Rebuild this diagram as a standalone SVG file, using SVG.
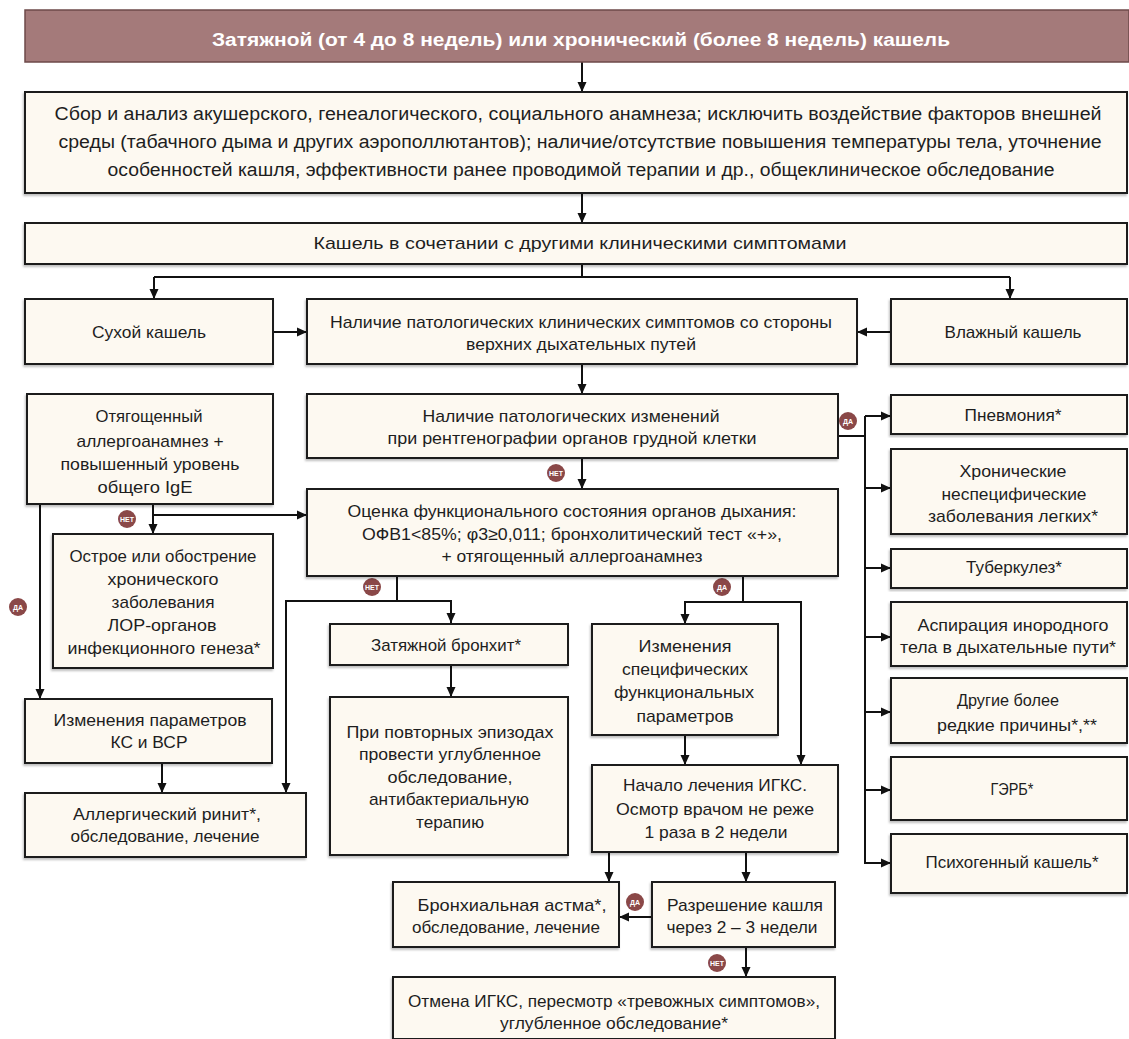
<svg xmlns="http://www.w3.org/2000/svg" width="1129" height="1039" viewBox="0 0 1129 1039">
<defs>
<marker id="ah" markerUnits="userSpaceOnUse" markerWidth="10" markerHeight="10" viewBox="0 0 10 10" refX="10" refY="5" orient="auto">
<path d="M0,0.5 L10,5 L0,9.5 z" fill="#111"/>
</marker>
<filter id="sh" x="-5%" y="-5%" width="110%" height="115%">
<feDropShadow dx="-1" dy="2" stdDeviation="1.2" flood-color="#000" flood-opacity="0.25"/>
</filter>
</defs>
<style>
.box{fill:#fdf9f1;stroke:#1c1c1c;stroke-width:2;filter:url(#sh)}
.t{font-family:"Liberation Sans",Arial,sans-serif;font-size:17px;fill:#1e1e1e;text-anchor:middle}
.big{font-size:18px}
.title{font-family:"Liberation Sans",Arial,sans-serif;font-size:18px;font-weight:bold;fill:#fff;text-anchor:middle}
.c{fill:none;stroke:#111;stroke-width:2}
.a{marker-end:url(#ah)}
.bd circle{fill:#8a4848}
.bd text{font-family:"Liberation Sans",Arial,sans-serif;font-size:7px;font-weight:bold;fill:#fff;text-anchor:middle}
</style>
<rect width="1129" height="1039" fill="#ffffff"/>

<g id="connectors">
<path class="c a" d="M582 62 V92"/>
<path class="c a" d="M582 193 V223"/>
<path class="c" d="M582 264 V277 M154 277 H1010"/>
<path class="c a" d="M154 277 V299"/>
<path class="c a" d="M1010 277 V299"/>
<path class="c a" d="M273 332 H307"/>
<path class="c a" d="M891 332 H857"/>
<path class="c a" d="M582 364 V394"/>
<path class="c a" d="M582 458 V489"/>
<path class="c" d="M838 436 H865 M865 416 V863"/>
<path class="c a" d="M865 416 H891"/>
<path class="c a" d="M865 488 H891"/>
<path class="c a" d="M865 568 H891"/>
<path class="c a" d="M865 637 H891"/>
<path class="c a" d="M865 712 H891"/>
<path class="c a" d="M865 790 H891"/>
<path class="c a" d="M864 863 H891"/>
<path class="c a" d="M40 504 V699"/>
<path class="c a" d="M153 504 V534"/>
<path class="c a" d="M153 515 H307"/>
<path class="c" d="M397 576 V601 M286 601 H451"/>
<path class="c a" d="M286 600 V793"/>
<path class="c a" d="M451 600 V623"/>
<path class="c" d="M743 576 V602 M685 602 H801"/>
<path class="c a" d="M685 601 V624"/>
<path class="c a" d="M801 601 V765"/>
<path class="c a" d="M451 665 V697"/>
<path class="c a" d="M162 763 V793"/>
<path class="c a" d="M685 735 V765"/>
<path class="c a" d="M609 852 V882"/>
<path class="c a" d="M746 852 V882"/>
<path class="c a" d="M652 917 H619"/>
<path class="c a" d="M746 947 V977"/>
<g class="bd"><circle cx="556" cy="473" r="9"/><text x="556" y="475.5">НЕТ</text></g>
<g class="bd"><circle cx="848" cy="421" r="9"/><text x="848" y="423.5">ДА</text></g>
<g class="bd"><circle cx="18" cy="607" r="9"/><text x="18" y="609.5">ДА</text></g>
<g class="bd"><circle cx="127" cy="519" r="9"/><text x="127" y="521.5">НЕТ</text></g>
<g class="bd"><circle cx="372" cy="587" r="9"/><text x="372" y="589.5">НЕТ</text></g>
<g class="bd"><circle cx="722" cy="587" r="9"/><text x="722" y="589.5">ДА</text></g>
<g class="bd"><circle cx="635" cy="902" r="9"/><text x="635" y="904.5">ДА</text></g>
<g class="bd"><circle cx="717" cy="963" r="9"/><text x="717" y="965.5">НЕТ</text></g>
</g>

<g id="n-title">
<rect x="25" y="10" width="1104" height="52" fill="#a47a7a" stroke="#6d4a4a" stroke-width="1.5"/>
<text class="title" x="581" y="46" textLength="738" lengthAdjust="spacingAndGlyphs">Затяжной (от 4 до 8 недель) или хронический (более 8 недель) кашель</text>
</g>
<g id="n-anamnesis">
<rect class="box" x="25" y="92" width="1102" height="101"/>
<text class="t big" x="578" y="120" textLength="1047" lengthAdjust="spacingAndGlyphs">Сбор и анализ акушерского, генеалогического, социального анамнеза; исключить воздействие факторов внешней</text>
<text class="t big" x="580" y="148" textLength="1043" lengthAdjust="spacingAndGlyphs">среды (табачного дыма и других аэрополлютантов); наличие/отсутствие повышения температуры тела, уточнение</text>
<text class="t big" x="581" y="176" textLength="947" lengthAdjust="spacingAndGlyphs">особенностей кашля, эффективности ранее проводимой терапии и др., общеклиническое обследование</text>
</g>
<g id="n-cough">
<rect class="box" x="25" y="223" width="1102" height="41"/>
<text class="t" x="580" y="249" textLength="533" lengthAdjust="spacingAndGlyphs">Кашель в сочетании с другими клиническими симптомами</text>
</g>
<g id="n-dry">
<rect class="box" x="25" y="299" width="248" height="65"/>
<text class="t" x="149" y="338" textLength="114" lengthAdjust="spacingAndGlyphs">Сухой кашель</text>
</g>
<g id="n-upper">
<rect class="box" x="307" y="299" width="550" height="65"/>
<text class="t" x="581" y="328" textLength="502" lengthAdjust="spacingAndGlyphs">Наличие патологических клинических симптомов со стороны</text>
<text class="t" x="581" y="350" textLength="230" lengthAdjust="spacingAndGlyphs">верхних дыхательных путей</text>
</g>
<g id="n-wet">
<rect class="box" x="891" y="299" width="236" height="65"/>
<text class="t" x="1013" y="338" textLength="137" lengthAdjust="spacingAndGlyphs">Влажный кашель</text>
</g>
<g id="n-xray">
<rect class="box" x="307" y="394" width="531" height="64"/>
<text class="t" x="571" y="422" textLength="297" lengthAdjust="spacingAndGlyphs">Наличие патологических изменений</text>
<text class="t" x="572" y="444" textLength="369" lengthAdjust="spacingAndGlyphs">при рентгенографии органов грудной клетки</text>
</g>
<g id="n-allergo">
<rect class="box" x="27" y="394" width="246" height="110"/>
<text class="t" x="149" y="422" textLength="107" lengthAdjust="spacingAndGlyphs">Отягощенный</text>
<text class="t" x="150" y="447" textLength="147" lengthAdjust="spacingAndGlyphs">аллергоанамнез +</text>
<text class="t" x="150" y="470" textLength="179" lengthAdjust="spacingAndGlyphs">повышенный уровень</text>
<text class="t" x="145" y="493" textLength="95" lengthAdjust="spacingAndGlyphs">общего IgE</text>
</g>
<g id="n-acute">
<rect class="box" x="53" y="534" width="220" height="134"/>
<text class="t" x="163" y="562" textLength="187" lengthAdjust="spacingAndGlyphs">Острое или обострение</text>
<text class="t" x="163" y="585" textLength="111" lengthAdjust="spacingAndGlyphs">хронического</text>
<text class="t" x="163" y="608" textLength="103" lengthAdjust="spacingAndGlyphs">заболевания</text>
<text class="t" x="162" y="631" textLength="109" lengthAdjust="spacingAndGlyphs">ЛОР-органов</text>
<text class="t" x="164" y="654" textLength="193" lengthAdjust="spacingAndGlyphs">инфекционного генеза*</text>
</g>
<g id="n-ks">
<rect class="box" x="25" y="699" width="247" height="64"/>
<text class="t" x="150" y="726" textLength="193" lengthAdjust="spacingAndGlyphs">Изменения параметров</text>
<text class="t" x="149" y="748" textLength="77" lengthAdjust="spacingAndGlyphs">КС и ВСР</text>
</g>
<g id="n-rhinitis">
<rect class="box" x="25" y="793" width="281" height="64"/>
<text class="t" x="167" y="820" textLength="188" lengthAdjust="spacingAndGlyphs">Аллергический ринит*,</text>
<text class="t" x="165" y="842" textLength="189" lengthAdjust="spacingAndGlyphs">обследование, лечение</text>
</g>
<g id="n-eval">
<rect class="box" x="307" y="489" width="531" height="87"/>
<text class="t" x="572" y="517" textLength="449" lengthAdjust="spacingAndGlyphs">Оценка функционального состояния органов дыхания:</text>
<text class="t" x="572" y="540" textLength="420" lengthAdjust="spacingAndGlyphs">ОФВ1&lt;85%; φ3≥0,011; бронхолитический тест «+»,</text>
<text class="t" x="572" y="562" textLength="261" lengthAdjust="spacingAndGlyphs">+ отягощенный аллергоанамнез</text>
</g>
<g id="n-bronchitis">
<rect class="box" x="330" y="624" width="238" height="41"/>
<text class="t" x="446" y="651" textLength="150" lengthAdjust="spacingAndGlyphs">Затяжной бронхит*</text>
</g>
<g id="n-repeat">
<rect class="box" x="330" y="697" width="238" height="158"/>
<text class="t" x="450" y="738" textLength="207" lengthAdjust="spacingAndGlyphs">При повторных эпизодах</text>
<text class="t" x="450" y="760" textLength="182" lengthAdjust="spacingAndGlyphs">провести углубленное</text>
<text class="t" x="450" y="783" textLength="125" lengthAdjust="spacingAndGlyphs">обследование,</text>
<text class="t" x="449" y="805" textLength="160" lengthAdjust="spacingAndGlyphs">антибактериальную</text>
<text class="t" x="450" y="828" textLength="68" lengthAdjust="spacingAndGlyphs">терапию</text>
</g>
<g id="n-specific">
<rect class="box" x="592" y="624" width="186" height="111"/>
<text class="t" x="685" y="652" textLength="93" lengthAdjust="spacingAndGlyphs">Изменения</text>
<text class="t" x="685" y="675" textLength="126" lengthAdjust="spacingAndGlyphs">специфических</text>
<text class="t" x="684" y="698" textLength="140" lengthAdjust="spacingAndGlyphs">функциональных</text>
<text class="t" x="685" y="722" textLength="97" lengthAdjust="spacingAndGlyphs">параметров</text>
</g>
<g id="n-igks">
<rect class="box" x="592" y="765" width="246" height="87"/>
<text class="t" x="715" y="791" textLength="184" lengthAdjust="spacingAndGlyphs">Начало лечения ИГКС.</text>
<text class="t" x="715" y="815" textLength="198" lengthAdjust="spacingAndGlyphs">Осмотр врачом не реже</text>
<text class="t" x="716" y="838" textLength="143" lengthAdjust="spacingAndGlyphs">1 раза в 2 недели</text>
</g>
<g id="n-asthma">
<rect class="box" x="393" y="882" width="226" height="65"/>
<text class="t" x="512" y="911" textLength="189" lengthAdjust="spacingAndGlyphs">Бронхиальная астма*,</text>
<text class="t" x="506" y="933" textLength="188" lengthAdjust="spacingAndGlyphs">обследование, лечение</text>
</g>
<g id="n-resolve">
<rect class="box" x="652" y="882" width="183" height="65"/>
<text class="t" x="745" y="911" textLength="156" lengthAdjust="spacingAndGlyphs">Разрешение кашля</text>
<text class="t" x="742" y="933" textLength="151" lengthAdjust="spacingAndGlyphs">через 2 – 3 недели</text>
</g>
<g id="n-cancel">
<rect class="box" x="393" y="977" width="442" height="62"/>
<text class="t" x="614" y="1007" textLength="412" lengthAdjust="spacingAndGlyphs">Отмена ИГКС, пересмотр «тревожных симптомов»,</text>
<text class="t" x="614" y="1029" textLength="228" lengthAdjust="spacingAndGlyphs">углубленное обследование*</text>
</g>
<g id="n-pneumonia">
<rect class="box" x="891" y="395" width="236" height="39"/>
<text class="t" x="1013" y="421" textLength="97" lengthAdjust="spacingAndGlyphs">Пневмония*</text>
</g>
<g id="n-chronic">
<rect class="box" x="891" y="449" width="236" height="85"/>
<text class="t" x="1013" y="477" textLength="107" lengthAdjust="spacingAndGlyphs">Хронические</text>
<text class="t" x="1014" y="500" textLength="145" lengthAdjust="spacingAndGlyphs">неспецифические</text>
<text class="t" x="1013" y="522" textLength="170" lengthAdjust="spacingAndGlyphs">заболевания легких*</text>
</g>
<g id="n-tb">
<rect class="box" x="891" y="549" width="236" height="39"/>
<text class="t" x="1014" y="573" textLength="96" lengthAdjust="spacingAndGlyphs">Туберкулез*</text>
</g>
<g id="n-aspiration">
<rect class="box" x="891" y="602" width="236" height="64"/>
<text class="t" x="1013" y="631" textLength="191" lengthAdjust="spacingAndGlyphs">Аспирация инородного</text>
<text class="t" x="1008" y="653" textLength="216" lengthAdjust="spacingAndGlyphs">тела в дыхательные пути*</text>
</g>
<g id="n-rare">
<rect class="box" x="891" y="678" width="236" height="65"/>
<text class="t" x="1008" y="706" textLength="102" lengthAdjust="spacingAndGlyphs">Другие более</text>
<text class="t" x="1017" y="731" textLength="160" lengthAdjust="spacingAndGlyphs">редкие причины*,**</text>
</g>
<g id="n-gerd">
<rect class="box" x="891" y="757" width="236" height="63"/>
<text class="t" x="1012" y="795" textLength="43" lengthAdjust="spacingAndGlyphs">ГЭРБ*</text>
</g>
<g id="n-psycho">
<rect class="box" x="891" y="834" width="236" height="59"/>
<text class="t" x="1012" y="868" textLength="173" lengthAdjust="spacingAndGlyphs">Психогенный кашель*</text>
</g>
</svg>
